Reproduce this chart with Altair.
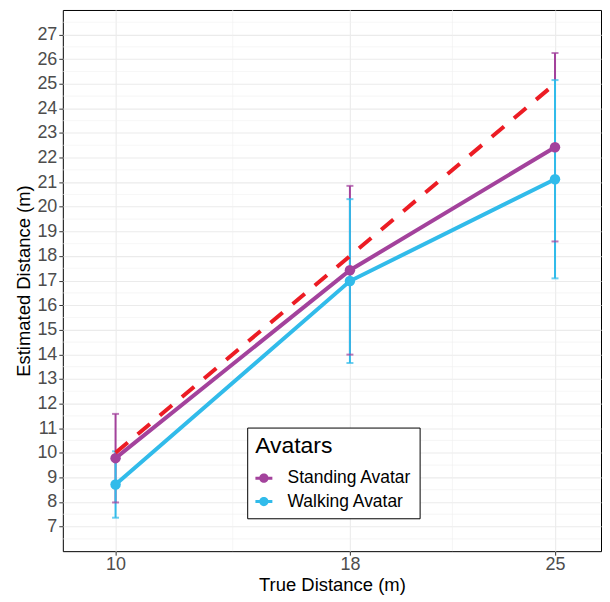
import altair as alt
import pandas as pd

# ---- data ----
true_dist = [10, 18, 25]
standing_mean = [9.78, 17.42, 22.42]
standing_sd = [1.80, 3.43, 3.83]
walking_mean = [8.71, 16.98, 21.12]
walking_sd = [1.35, 3.33, 4.03]
series = ["Standing Avatar", "Walking Avatar"]
colors = ["#A3429C", "#31BBEA"]
ref_x = [10, 25]
ref_y = [10, 25]
x_ticks = [10, 18, 25]
x_minor = [14, 21.5]
y_ticks = list(range(7, 28))
y_minor = [6.5 + i for i in range(22)]

rows = []
for s, means, sds in [(series[0], standing_mean, standing_sd),
                      (series[1], walking_mean, walking_sd)]:
    for xv, m, sd in zip(true_dist, means, sds):
        rows.append({"x": xv, "y": m, "lo": m - sd, "hi": m + sd, "Avatars": s})
df = pd.DataFrame(rows)
ref_df = pd.DataFrame({"x": ref_x, "y": ref_y})
xminor_df = pd.DataFrame({"x": x_minor})
yminor_df = pd.DataFrame({"y": y_minor})

FONT = "Liberation Sans"
xs = alt.Scale(domain=[8.2, 26.57], nice=False, zero=False)
ys = alt.Scale(domain=[6, 28], nice=False, zero=False)
xaxis = alt.Axis(values=x_ticks, title="True Distance (m)", labelPadding=0, titlePadding=2)
yaxis = alt.Axis(values=y_ticks, title="Estimated Distance (m)", labelPadding=2, titlePadding=3)
X = alt.X("x:Q", scale=xs, axis=xaxis)
Y = alt.Y("y:Q", scale=ys, axis=yaxis)

legend_path = ("M-1,-0.18 L1,-0.18 L1,0.18 L-1,0.18 Z "
               "M0.55,0 A0.55,0.55 0 1 1 -0.55,0 A0.55,0.55 0 1 1 0.55,0 Z")
cscale = alt.Scale(domain=series, range=colors)
legend = alt.Legend(
    title="Avatars", orient="none", legendX=185, legendY=419,
    symbolType=legend_path, symbolSize=289, symbolStrokeWidth=0, symbolOpacity=1,
    strokeColor="black", fillColor="white", padding=8,
    titleFont=FONT, titleFontSize=23, titleFontWeight="normal", titleColor="black",
    titlePadding=11, labelFont=FONT, labelFontSize=17.5, labelColor="black",
    labelOffset=15, rowPadding=4.5,
)
C = alt.Color("Avatars:N", scale=cscale, legend=legend)

minor_h = alt.Chart(yminor_df).mark_rule(color="#F0F0F0", strokeWidth=0.6).encode(y=Y)
minor_v = alt.Chart(xminor_df).mark_rule(color="#F0F0F0", strokeWidth=0.6).encode(x=X)

base = alt.Chart(df)
err = base.mark_rule(strokeWidth=2).encode(x=X, y=alt.Y("lo:Q", scale=ys, axis=yaxis), y2="hi:Q", color=C)
cap_lo = base.mark_tick(orient="horizontal", size=7, thickness=2).encode(
    x=X, y=alt.Y("lo:Q", scale=ys, axis=yaxis), color=C)
cap_hi = base.mark_tick(orient="horizontal", size=7, thickness=2).encode(
    x=X, y=alt.Y("hi:Q", scale=ys, axis=yaxis), color=C)
lines = base.mark_line(strokeWidth=4).encode(x=X, y=Y, color=C)
pts = base.mark_point(filled=True, size=110, opacity=1).encode(x=X, y=Y, color=C)
ref = alt.Chart(ref_df).mark_line(color="#EC1C24", strokeWidth=4, strokeDash=[16, 13]).encode(x=X, y=Y)

chart = alt.layer(minor_h, minor_v, err, cap_lo, cap_hi, lines, pts, ref).properties(
    width=540, height=543,
    padding={"left": 6, "top": 0, "right": 0, "bottom": 0},
    background="white",
).configure_view(stroke="black", strokeWidth=1).configure_axis(
    grid=True, gridColor="#EBEBEB", gridWidth=1.1, domain=False,
    tickColor="#333333", tickSize=4, tickWidth=1,
    labelFont=FONT, labelFontSize=18, labelColor="#4D4D4D",
    titleFont=FONT, titleFontSize=18.5, titleFontWeight="normal", titleColor="black",
)

chart.save("out.html", embed_options={"renderer": "svg", "actions": False})
